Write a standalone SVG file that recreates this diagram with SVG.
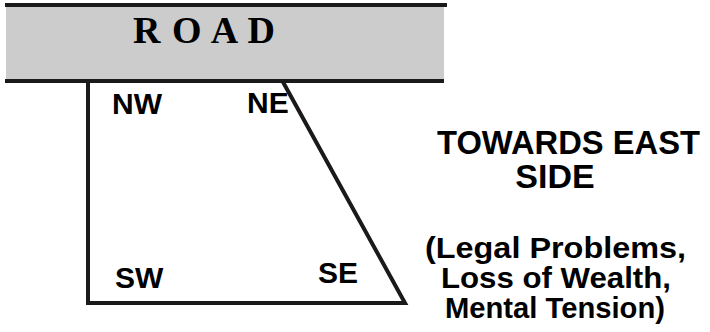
<svg xmlns="http://www.w3.org/2000/svg" width="710" height="332" viewBox="0 0 710 332">
<style>
.lbl{font-family:"Liberation Sans",Arial,sans-serif;font-weight:bold;fill:#000}
.road{font-family:"Liberation Serif","Times New Roman",serif;font-weight:bold;fill:#000}
.edge{stroke:#1a1a1a;stroke-width:4;fill:none}
</style>
<rect width="710" height="332" fill="#fff"/>
<g id="road">
<rect x="6" y="5" width="438" height="75" fill="#cccccc"/>
<line class="edge" x1="5" y1="5" x2="447" y2="5" stroke="#000"/>
<line class="edge" x1="5" y1="81" x2="444" y2="81" stroke="#000"/>
<text class="road" x="133" y="43" font-size="38" textLength="142" lengthAdjust="spacing">R O A D</text>
</g>
<g id="connectors">
<path class="edge" d="M283,82 L405,303 L88,303 L88,82" stroke-linejoin="miter"/>
</g>
<g id="plot-labels">
<text class="lbl" x="112" y="114" font-size="30">NW</text>
<text class="lbl" x="247" y="113" font-size="30">NE</text>
<text class="lbl" x="115" y="288" font-size="30">SW</text>
<text class="lbl" x="318" y="283" font-size="30">SE</text>
</g>
<g id="east-note">
<text class="lbl" x="437" y="154" font-size="33" textLength="263" lengthAdjust="spacingAndGlyphs">TOWARDS EAST</text>
<text class="lbl" x="555" y="188" font-size="34" text-anchor="middle">SIDE</text>
<text class="lbl" x="425" y="258" font-size="30" textLength="261" lengthAdjust="spacingAndGlyphs">(Legal Problems,</text>
<text class="lbl" x="441" y="288" font-size="30" textLength="230" lengthAdjust="spacingAndGlyphs">Loss of Wealth,</text>
<text class="lbl" x="445" y="318" font-size="30" textLength="220" lengthAdjust="spacingAndGlyphs">Mental Tension)</text>
</g>
</svg>
